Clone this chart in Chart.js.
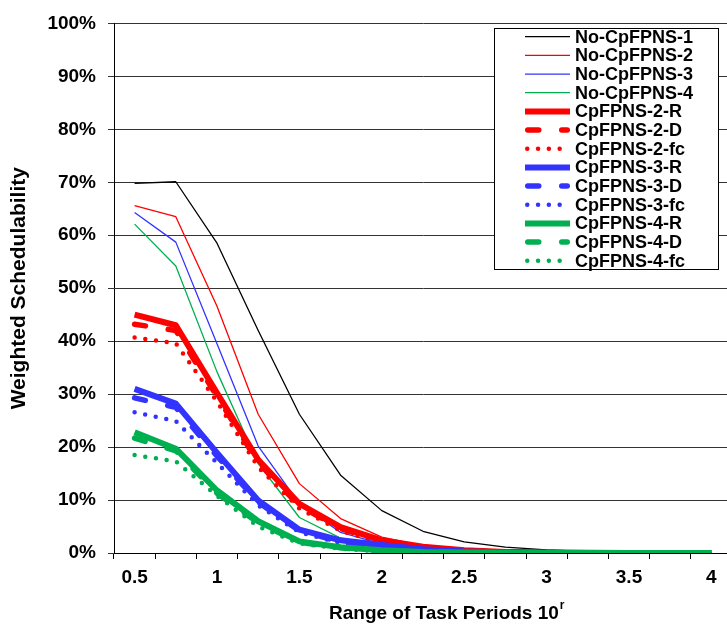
<!DOCTYPE html>
<html>
<head>
<meta charset="utf-8">
<script src="https://cdn.jsdelivr.net/npm/chart.js@4/dist/chart.umd.min.js"></script>
<style>
  html, body { margin: 0; padding: 0; background: #fff; overflow: hidden; }
  canvas { display: block; }
</style>
</head>
<body>
<canvas id="myChart" width="740" height="628"></canvas>
<script>
const ctx = document.getElementById('myChart');

// range exponent r (task periods drawn from 10^r)
const periods = ['0.5', '0.75', '1', '1.25', '1.5', '1.75', '2', '2.25', '2.5', '2.75', '3', '3.25', '3.5', '3.75', '4'];
const yTicks = [0, 10, 20, 30, 40, 50, 60, 70, 80, 90, 100];

// weighted schedulability, %
const noCp1 = [69.8, 70.1, 58.5, 42.0, 26.2, 14.7, 8.0, 4.1, 2.1, 1.1, 0.6, 0.3, 0.15, 0.08, 0.04];
const noCp2 = [65.6, 63.5, 46.6, 26.2, 13.1, 6.5, 3.0, 1.4, 0.7, 0.3, 0.15, 0.07, 0.03, 0.01, 0];
const noCp3 = [64.3, 58.7, 39.5, 20.2, 9.3, 3.9, 1.7, 0.7, 0.3, 0.12, 0.05, 0.02, 0.01, 0, 0];
const noCp4 = [62.1, 54.2, 34.2, 16.9, 6.7, 2.8, 1.4, 0.5, 0.2, 0.08, 0.03, 0.01, 0, 0, 0];
const cp2R  = [45.0, 43.0, 30.2, 17.6, 9.3, 4.9, 2.4, 1.2, 0.5, 0.2, 0.08, 0.03, 0.01, 0, 0];
const cp2D  = [43.2, 42.0, 29.6, 17.1, 8.9, 4.6, 2.2, 1.1, 0.45, 0.18, 0.07, 0.03, 0.01, 0, 0];
const cp2fc = [40.7, 39.6, 28.6, 16.2, 8.4, 4.2, 1.9, 0.9, 0.4, 0.15, 0.06, 0.02, 0.01, 0, 0];
const cp3R  = [31.0, 28.2, 18.9, 9.9, 4.4, 2.4, 1.5, 0.7, 0.3, 0.12, 0.05, 0.02, 0.01, 0, 0];
const cp3D  = [29.3, 27.5, 18.3, 9.6, 4.2, 2.1, 1.2, 0.6, 0.25, 0.1, 0.04, 0.02, 0.01, 0, 0];
const cp3fc = [26.6, 24.9, 17.0, 9.0, 3.9, 1.9, 1.0, 0.5, 0.2, 0.08, 0.03, 0.01, 0, 0, 0];
const cp4R  = [22.8, 19.7, 11.8, 6.0, 2.2, 1.1, 0.5, 0.2, 0.1, 0.04, 0.02, 0.01, 0, 0, 0];
const cp4D  = [21.7, 19.3, 11.3, 5.7, 2.0, 1.0, 0.4, 0.2, 0.08, 0.03, 0.01, 0, 0, 0, 0];
const cp4fc = [18.5, 17.3, 10.8, 5.0, 1.8, 0.8, 0.3, 0.15, 0.06, 0.02, 0.01, 0, 0, 0, 0];

const RED = '#ff0000', BLUE = '#3333ff', GREEN = '#00b050', BLACK = '#000000';
const FONT = '"Liberation Sans", Arial, sans-serif';

function thin(label, data, color) {
  return { label, data, borderColor: color, borderWidth: 1.3 };
}
function solid(label, data, color) {
  return { label, data, borderColor: color, borderWidth: 6, borderCapStyle: 'butt' };
}
function dashed(label, data, color) {
  return { label, data, borderColor: color, borderWidth: 5.5, borderDash: [11, 23], borderCapStyle: 'round' };
}
function dotted(label, data, color) {
  return { label, data, borderColor: color, borderWidth: 4.5, borderDash: [0, 10.8], borderCapStyle: 'round' };
}

const datasets = [
  thin('No-CpFPNS-1', noCp1, BLACK),
  thin('No-CpFPNS-2', noCp2, RED),
  thin('No-CpFPNS-3', noCp3, BLUE),
  thin('No-CpFPNS-4', noCp4, GREEN),
  solid('CpFPNS-2-R', cp2R, RED),
  dashed('CpFPNS-2-D', cp2D, RED),
  dotted('CpFPNS-2-fc', cp2fc, RED),
  solid('CpFPNS-3-R', cp3R, BLUE),
  dashed('CpFPNS-3-D', cp3D, BLUE),
  dotted('CpFPNS-3-fc', cp3fc, BLUE),
  solid('CpFPNS-4-R', cp4R, GREEN),
  dashed('CpFPNS-4-D', cp4D, GREEN),
  dotted('CpFPNS-4-fc', cp4fc, GREEN)
];
// later series are painted on top
datasets.forEach((d, i) => {
  d.order = -i;
  d.pointRadius = 0;
  d.tension = 0;
  d.fill = false;
  d.borderJoinStyle = 'round';
});

// boxed legend in the upper right corner
const boxLegend = {
  id: 'boxLegend',
  afterDraw(chart) {
    const c = chart.ctx;
    const x0 = 494, y0 = 28, w = 224, h = 241;
    c.save();
    c.fillStyle = '#fff';
    c.fillRect(x0, y0, w, h);
    c.strokeStyle = '#000';
    c.lineWidth = 1;
    c.strokeRect(x0 + 0.5, y0 + 0.5, w, h);
    c.font = 'bold 18px ' + FONT;
    c.textBaseline = 'middle';
    c.textAlign = 'left';
    chart.data.datasets.forEach((d, i) => {
      const y = 36.7 + i * 18.67;
      c.save();
      c.strokeStyle = d.borderColor;
      c.lineWidth = d.borderWidth;
      c.lineCap = d.borderCapStyle || 'butt';
      c.setLineDash(d.borderDash || []);
      const pad = d.borderCapStyle === 'round' ? d.borderWidth / 2 : 0;
      c.beginPath();
      c.moveTo(525 + pad, y);
      c.lineTo(570 - pad + (d.borderDash && d.borderDash[0] === 0 ? 0.5 : 0), y);
      c.stroke();
      c.restore();
      c.fillStyle = '#000';
      c.fillText(d.label, 575, y + 1);
    });
    c.restore();
  }
};

// x axis title with superscript exponent
const xTitle = {
  id: 'xTitle',
  afterDraw(chart) {
    const c = chart.ctx;
    const main = 'Range of Task Periods 10';
    const x = 329;
    c.save();
    c.fillStyle = '#000';
    c.textBaseline = 'alphabetic';
    c.textAlign = 'left';
    c.font = 'bold 19px ' + FONT;
    const w1 = c.measureText(main).width;
    c.fillText(main, x, 619);
    c.font = 'bold 12px ' + FONT;
    c.fillText('r', x + w1 + 1, 609);
    c.restore();
  }
};

let graphdata = {
  type: 'line',
  data: { labels: periods, datasets: datasets },
  options: {
    responsive: false,
    animation: false,
    devicePixelRatio: 1,
    layout: { padding: { top: 19, right: 8, left: 0, bottom: 0 } },
    plugins: {
      legend: { display: false },
      tooltip: { enabled: false }
    },
    scales: {
      x: {
        type: 'category',
        offset: true,
        afterFit(scale) { scale.height = 75; },
        grid: {
          offset: true,
          drawOnChartArea: false,
          drawTicks: true,
          tickLength: 6,
          color: '#000'
        },
        border: { display: true, color: '#000', width: 1 },
        ticks: {
          autoSkip: false,
          maxRotation: 0,
          padding: 7,
          color: '#000',
          font: { family: FONT, size: 19, weight: 'bold' },
          callback: (v, i) => (i % 2 === 0 ? periods[i] : '')
        }
      },
      y: {
        min: yTicks[0],
        max: yTicks[yTicks.length - 1],
        afterFit(scale) { scale.width = 114; },
        afterBuildTicks(scale) { scale.ticks = yTicks.map(v => ({ value: v })); },
        grid: { color: '#333', lineWidth: 1, tickLength: 6 },
        border: { display: true, color: '#000', width: 1 },
        ticks: {
          padding: 12,
          color: '#000',
          font: { family: FONT, size: 19, weight: 'bold' },
          callback: v => v + '%'
        },
        title: {
          display: true,
          text: 'Weighted Schedulability',
          color: '#000',
          font: { family: FONT, size: 21, weight: 'bold' },
          padding: { top: 7, bottom: 0 }
        }
      }
    }
  },
  plugins: [boxLegend, xTitle]
};

let mychart = new Chart(ctx, graphdata);
</script>
</body>
</html>
